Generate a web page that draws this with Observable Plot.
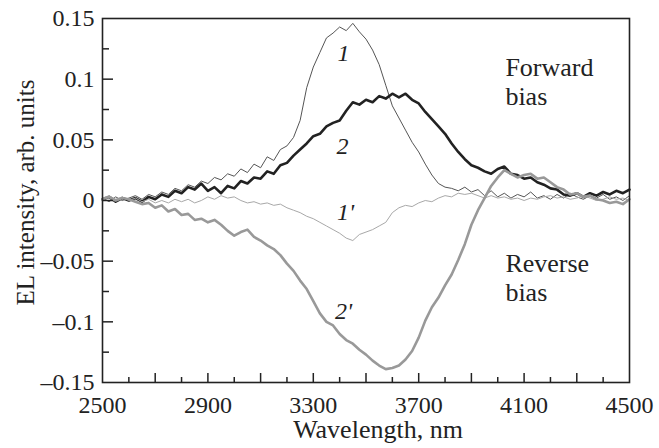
<!DOCTYPE html>
<html>
<head>
<meta charset="utf-8">
<script src="https://cdn.jsdelivr.net/npm/d3@7"></script>
<script src="https://cdn.jsdelivr.net/npm/@observablehq/plot@0.6"></script>
<style>
  html, body { margin: 0; padding: 0; background: #fff; }
  svg text { font-family: "Liberation Serif", "Times New Roman", serif !important; }
</style>
</head>
<body>
<div id="chart"></div>
<script>
// Wavelength grid (nm)
const wavelength = [2500,2525,2550,2575,2600,2625,2650,2675,2700,2725,2750,2775,2800,2825,2850,2875,2900,2925,2950,2975,3000,3025,3050,3075,3100,3125,3150,3175,3200,3225,3250,3275,3300,3325,3350,3375,3400,3425,3450,3475,3500,3525,3550,3575,3600,3625,3650,3675,3700,3725,3750,3775,3800,3825,3850,3875,3900,3925,3950,3975,4000,4025,4050,4075,4100,4125,4150,4175,4200,4225,4250,4275,4300,4325,4350,4375,4400,4425,4450,4475,4500];

// Curve 1 (forward bias, thin dark)
const curve1 = [0.002,-0.001,0.003,0.000,0.002,0.004,0.001,0.005,0.003,0.007,0.005,0.010,0.008,0.013,0.011,0.016,0.014,0.019,0.017,0.022,0.020,0.026,0.023,0.030,0.027,0.036,0.033,0.042,0.045,0.052,0.066,0.093,0.110,0.122,0.134,0.138,0.143,0.140,0.146,0.139,0.133,0.124,0.112,0.095,0.078,0.068,0.058,0.048,0.040,0.030,0.021,0.014,0.011,0.010,0.008,0.011,0.007,0.009,0.004,0.008,0.003,0.006,0.002,0.005,0.003,0.007,0.002,0.004,0.001,0.005,0.002,0.006,0.003,0.001,0.004,0.002,0.005,0.001,0.003,0.000,0.004];

// Curve 2 (forward bias, thick dark)
const curve2 = [0.001,0.003,-0.001,0.002,0.000,0.002,-0.001,0.003,0.001,0.005,0.003,0.008,0.006,0.011,0.009,0.014,0.008,0.011,0.006,0.012,0.010,0.016,0.014,0.019,0.018,0.024,0.022,0.029,0.031,0.037,0.042,0.047,0.053,0.055,0.061,0.064,0.066,0.074,0.081,0.079,0.083,0.081,0.086,0.084,0.088,0.085,0.088,0.083,0.080,0.073,0.067,0.061,0.055,0.047,0.040,0.034,0.029,0.027,0.024,0.022,0.026,0.028,0.022,0.021,0.018,0.019,0.015,0.013,0.010,0.009,0.005,0.004,0.006,0.003,0.006,0.004,0.007,0.005,0.008,0.006,0.009];

// Curve 1' (reverse bias, thin light grey)
const curve1r = [0.002,0.004,0.001,0.003,0.000,0.002,-0.001,0.001,-0.002,0.000,-0.002,0.001,-0.001,0.001,-0.002,0.000,0.003,0.001,0.004,0.002,0.003,0.000,-0.002,-0.001,-0.003,-0.002,-0.004,-0.003,-0.006,-0.008,-0.010,-0.013,-0.015,-0.018,-0.021,-0.024,-0.027,-0.031,-0.033,-0.028,-0.026,-0.024,-0.021,-0.018,-0.010,-0.006,-0.004,-0.005,-0.002,0.000,-0.001,0.002,0.004,0.003,0.006,0.005,0.006,0.004,0.002,0.004,0.002,0.003,0.001,0.002,0.000,0.002,0.001,0.003,0.004,0.002,0.003,0.001,0.002,0.004,0.002,0.000,0.001,0.003,0.001,0.002,0.000];

// Curve 2' (reverse bias, thick grey)
const curve2r = [0.001,0.003,0.000,0.002,0.001,-0.001,-0.003,-0.002,-0.006,-0.004,-0.009,-0.007,-0.012,-0.011,-0.016,-0.015,-0.018,-0.016,-0.020,-0.025,-0.029,-0.026,-0.024,-0.030,-0.033,-0.037,-0.040,-0.045,-0.052,-0.058,-0.066,-0.073,-0.083,-0.093,-0.100,-0.103,-0.110,-0.115,-0.118,-0.123,-0.127,-0.132,-0.136,-0.139,-0.138,-0.136,-0.131,-0.124,-0.113,-0.099,-0.088,-0.080,-0.070,-0.061,-0.049,-0.036,-0.020,-0.008,0.002,0.012,0.019,0.025,0.022,0.019,0.021,0.022,0.018,0.019,0.015,0.011,0.009,0.005,0.006,0.003,0.004,0.001,0.000,-0.002,-0.001,-0.003,0.001];

// Axis ticks
const xLabelTicks = [2500,2900,3300,3700,4100,4500];
const xMajorTicks = [2700,2900,3100,3300,3500,3700,3900,4100,4300];
const xMinorTicks = [2600,2800,3000,3200,3400,3600,3800,4000,4200,4400];
const yLabelTicks = [-0.15,-0.1,-0.05,0,0.05,0.1,0.15];
const yLabelText = ["\u20130.15","\u20130.1","\u20130.05","0","0.05","0.1","0.15"];
const yMajorTicks = [-0.1,-0.05,0,0.05,0.1];
const yMinorTicks = [-0.125,-0.075,-0.025,0.025,0.075,0.125];

// Curve annotations (data coordinates)
const curveLabels = ["1","2","1'","2'"];
const curveLabelX = [3415,3411,3422,3415];
const curveLabelY = [0.121,0.045,-0.010,-0.091];

const biasLabels = ["Forward\nbias","Reverse\nbias"];
const biasLabelX = [4029,4029];
const biasLabelY = [0.120,-0.042];

const FONT = "Liberation Serif";
const W = 659, H = 448, ML = 102, MR = 30, MT = 18, MB = 66;
const xDomain = [2500, 4500], yDomain = [-0.15, 0.15];
const frameW = W - ML - MR, frameH = H - MT - MB;
// pixel tick lengths converted to data units
const pxX = (xDomain[1] - xDomain[0]) / frameW;
const pxY = (yDomain[1] - yDomain[0]) / frameH;

const seriesStyle = [
  {key: "1", values: curve1, stroke: "#555555", width: 1},
  {key: "2", values: curve2, stroke: "#222222", width: 2.6},
  {key: "1'", values: curve1r, stroke: "#a8a8a8", width: 1},
  {key: "2'", values: curve2r, stroke: "#999999", width: 2.6}
];

const lineMarks = seriesStyle.map(s =>
  Plot.line(wavelength.map((w, i) => ({w, v: s.values[i]})), {
    x: "w", y: "v", stroke: s.stroke, strokeWidth: s.width, strokeLinejoin: "round"
  })
);

const yFmt = d => yLabelText[yLabelTicks.findIndex(t => Math.abs(t - d) < 1e-9)];
const TICK = "#222";

const plot = Plot.plot({
  width: W,
  height: H,
  marginLeft: ML,
  marginRight: MR,
  marginTop: MT,
  marginBottom: MB,
  style: {fontFamily: FONT, fontSize: "24px", color: "#222", background: "#fff"},
  x: {domain: xDomain},
  y: {domain: yDomain},
  marks: [
    ...lineMarks,
    Plot.ruleX(xMajorTicks, {x: d => d, y1: yDomain[0], y2: yDomain[0] + 9 * pxY, stroke: TICK, strokeWidth: 1.5}),
    Plot.ruleX(xMinorTicks, {x: d => d, y1: yDomain[0], y2: yDomain[0] + 5 * pxY, stroke: TICK, strokeWidth: 1.5}),
    Plot.ruleY(yMajorTicks, {y: d => d, x1: xDomain[0], x2: xDomain[0] + 11 * pxX, stroke: TICK, strokeWidth: 1.5}),
    Plot.ruleY(yMinorTicks, {y: d => d, x1: xDomain[0], x2: xDomain[0] + 7 * pxX, stroke: TICK, strokeWidth: 1.5}),
    Plot.frame({stroke: "#222", strokeWidth: 1.6}),
    Plot.axisX(xLabelTicks, {tickSize: 0, tickPadding: 13, fontSize: 24, fontFamily: FONT, label: null, tickFormat: d => String(d)}),
    Plot.axisY(yLabelTicks, {tickSize: 0, tickPadding: 8, fontSize: 24, fontFamily: FONT, label: null, tickFormat: yFmt}),
    Plot.text(["Wavelength, nm"], {frameAnchor: "bottom", dy: 37, dx: 12, fontSize: 26, fontFamily: FONT, textAnchor: "middle", lineAnchor: "top", fill: "#222"}),
    Plot.text(["EL intensity, arb. units"], {frameAnchor: "left", dx: -77, dy: -8, rotate: -90, fontSize: 25, fontFamily: FONT, textAnchor: "middle", lineAnchor: "middle", fill: "#222"}),
    Plot.text(curveLabels, {x: (d, i) => curveLabelX[i], y: (d, i) => curveLabelY[i], text: d => d, fontSize: 24, fontFamily: FONT, fontStyle: "italic", fill: "#222"}),
    Plot.text(biasLabels, {x: (d, i) => biasLabelX[i], y: (d, i) => biasLabelY[i], text: d => d, fontSize: 26, fontFamily: FONT, textAnchor: "start", lineAnchor: "top", lineHeight: 1.12, fill: "#222"})
  ]
});
document.getElementById("chart").appendChild(plot);
</script>
</body>
</html>
